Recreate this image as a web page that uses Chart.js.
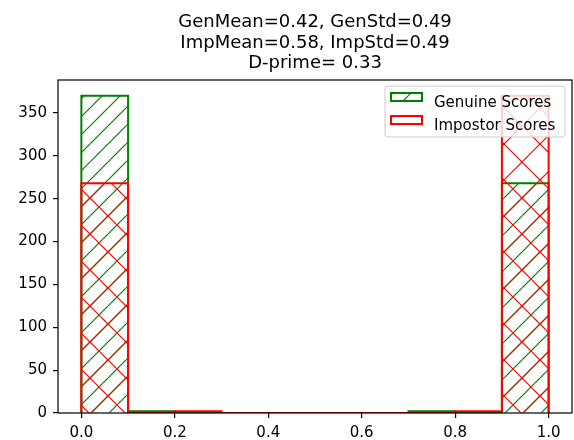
<!DOCTYPE html>
<html>
<head>
<meta charset="utf-8">
<script src="https://cdn.jsdelivr.net/npm/chart.js@4.4.0/dist/chart.umd.min.js"></script>
<style>
  html, body { margin: 0; padding: 0; background: #fff; }
  #wrap { width: 574px; height: 440px; }
</style>
</head>
<body>
<div id="wrap"><canvas id="histChart" width="574" height="440"></canvas></div>
<script>
const binEdges = [0.0, 0.1, 0.2, 0.3, 0.4, 0.5, 0.6, 0.7, 0.8, 0.9, 1.0];
const genuineCounts = [370, 2, 0, 0, 0, 0, 0, 2, 0, 268];
const impostorCounts = [268, 0, 2, 0, 0, 0, 0, 0, 2, 370];
const xTicks = [0.0, 0.2, 0.4, 0.6, 0.8, 1.0];
const yTicks = [0, 50, 100, 150, 200, 250, 300, 350];
const seriesNames = ['Genuine Scores', 'Impostor Scores'];
const titleLines = ['GenMean=0.42, GenStd=0.49', 'ImpMean=0.58, ImpStd=0.49', 'D-prime= 0.33'];

const GREEN = '#008000';
const RED = '#ff0000';
const FONT = '"DejaVu Sans", sans-serif';

const canvas = document.getElementById('histChart');
const ctx = canvas.getContext('2d');

// hatch tiles, like matplotlib '//' and 'x'
function makeHatch(color, period, dirs) {
  const c = document.createElement('canvas');
  c.width = period;
  c.height = period;
  const g = c.getContext('2d');
  g.strokeStyle = color;
  g.lineWidth = 1.2;
  for (let k = -1; k <= 1; k++) {
    if (dirs.includes('/')) {
      g.beginPath();
      g.moveTo(k * period, period);
      g.lineTo(k * period + period, 0);
      g.stroke();
    }
    if (dirs.includes('\\')) {
      g.beginPath();
      g.moveTo(k * period, 0);
      g.lineTo(k * period + period, period);
      g.stroke();
    }
  }
  return ctx.createPattern(c, 'repeat');
}

const greenHatch = makeHatch(GREEN, 18, '/');
const redHatch = makeHatch(RED, 36, '/\\');

function barsFrom(counts) {
  return counts.map((c, i) => ({ x: (binEdges[i] + binEdges[i + 1]) / 2, y: c }));
}

function outlineFrom(counts) {
  const pts = [{ x: binEdges[0], y: 0 }];
  counts.forEach((c, i) => {
    pts.push({ x: binEdges[i], y: c });
    pts.push({ x: binEdges[i + 1], y: c });
  });
  pts.push({ x: binEdges[binEdges.length - 1], y: 0 });
  return pts;
}

const framePlugin = {
  id: 'frame',
  afterDatasetsDraw(chart) {
    const a = chart.chartArea;
    const c = chart.ctx;
    c.save();
    c.strokeStyle = '#000';
    c.lineWidth = 1.2;
    c.strokeRect(a.left, a.top, a.right - a.left, a.bottom - a.top);
    c.restore();
  },
  afterDraw(chart) {
    const a = chart.chartArea;
    const c = chart.ctx;
    c.save();
    // title
    c.fillStyle = '#000';
    c.font = '18px ' + FONT;
    c.textAlign = 'center';
    c.textBaseline = 'alphabetic';
    const cx = (a.left + a.right) / 2;
    titleLines.forEach((t, i) => c.fillText(t, cx, 27 + i * 20.6));

    // legend
    const bx = 385, by = 86, bw = 180, bh = 51;
    c.beginPath();
    c.roundRect(bx, by, bw, bh, 3);
    c.fillStyle = 'rgba(255,255,255,0.8)';
    c.fill();
    c.strokeStyle = '#cccccc';
    c.lineWidth = 1;
    c.stroke();

    const fills = [greenHatch, '#ffffff'];
    const edges = [GREEN, RED];
    seriesNames.forEach((name, i) => {
      const py = 93 + i * 23;
      c.fillStyle = fills[i];
      c.fillRect(391, py, 31, 8);
      c.strokeStyle = edges[i];
      c.lineWidth = 2;
      c.strokeRect(391, py, 31, 8);
      c.fillStyle = '#000';
      c.font = '15px ' + FONT;
      c.textAlign = 'left';
      c.fillText(name, 434, 107 + i * 23);
    });
    c.restore();
  }
};

const histChart = new Chart(ctx, {
  type: 'bar',
  data: {
    datasets: [
      {
        label: seriesNames[0],
        data: barsFrom(genuineCounts),
        backgroundColor: greenHatch,
        borderWidth: 0,
        barPercentage: 1,
        categoryPercentage: 1,
        grouped: false,
        order: 4
      },
      {
        type: 'line',
        label: seriesNames[0] + ' edge',
        data: outlineFrom(genuineCounts),
        borderColor: GREEN,
        borderWidth: 2,
        pointRadius: 0,
        tension: 0,
        fill: false,
        order: 3
      },
      {
        label: seriesNames[1],
        data: barsFrom(impostorCounts),
        backgroundColor: redHatch,
        borderWidth: 0,
        barPercentage: 1,
        categoryPercentage: 1,
        grouped: false,
        order: 2
      },
      {
        type: 'line',
        label: seriesNames[1] + ' edge',
        data: outlineFrom(impostorCounts),
        borderColor: RED,
        borderWidth: 2,
        pointRadius: 0,
        tension: 0,
        fill: false,
        order: 1
      }
    ]
  },
  options: {
    responsive: false,
    animation: false,
    layout: { padding: { top: 80, right: 2, left: 0, bottom: 0 } },
    plugins: {
      legend: { display: false },
      title: { display: false },
      tooltip: { enabled: false }
    },
    scales: {
      x: {
        type: 'linear',
        min: -0.05,
        max: 1.05,
        offset: false,
        afterFit: (s) => { s.height = 27; },
        afterBuildTicks: (s) => { s.ticks = xTicks.map(v => ({ value: v })); },
        grid: { display: true, offset: false, drawOnChartArea: false, drawTicks: true, tickLength: 5, color: '#000', lineWidth: 1.2 },
        border: { display: false },
        ticks: {
          autoSkip: false,
          maxRotation: 0,
          padding: 6,
          color: '#000',
          font: { family: FONT, size: 15 },
          callback: (v) => Number(v).toFixed(1)
        }
      },
      y: {
        type: 'linear',
        min: 0,
        max: 388.5,
        afterFit: (s) => { s.width = 58; },
        afterBuildTicks: (s) => { s.ticks = yTicks.map(v => ({ value: v })); },
        grid: { display: true, drawOnChartArea: false, drawTicks: true, tickLength: 5, color: '#000', lineWidth: 1.2 },
        border: { display: false },
        ticks: {
          autoSkip: false,
          padding: 6,
          color: '#000',
          font: { family: FONT, size: 15 },
          callback: (v) => String(v)
        }
      }
    }
  },
  plugins: [framePlugin]
});
</script>
</body>
</html>
